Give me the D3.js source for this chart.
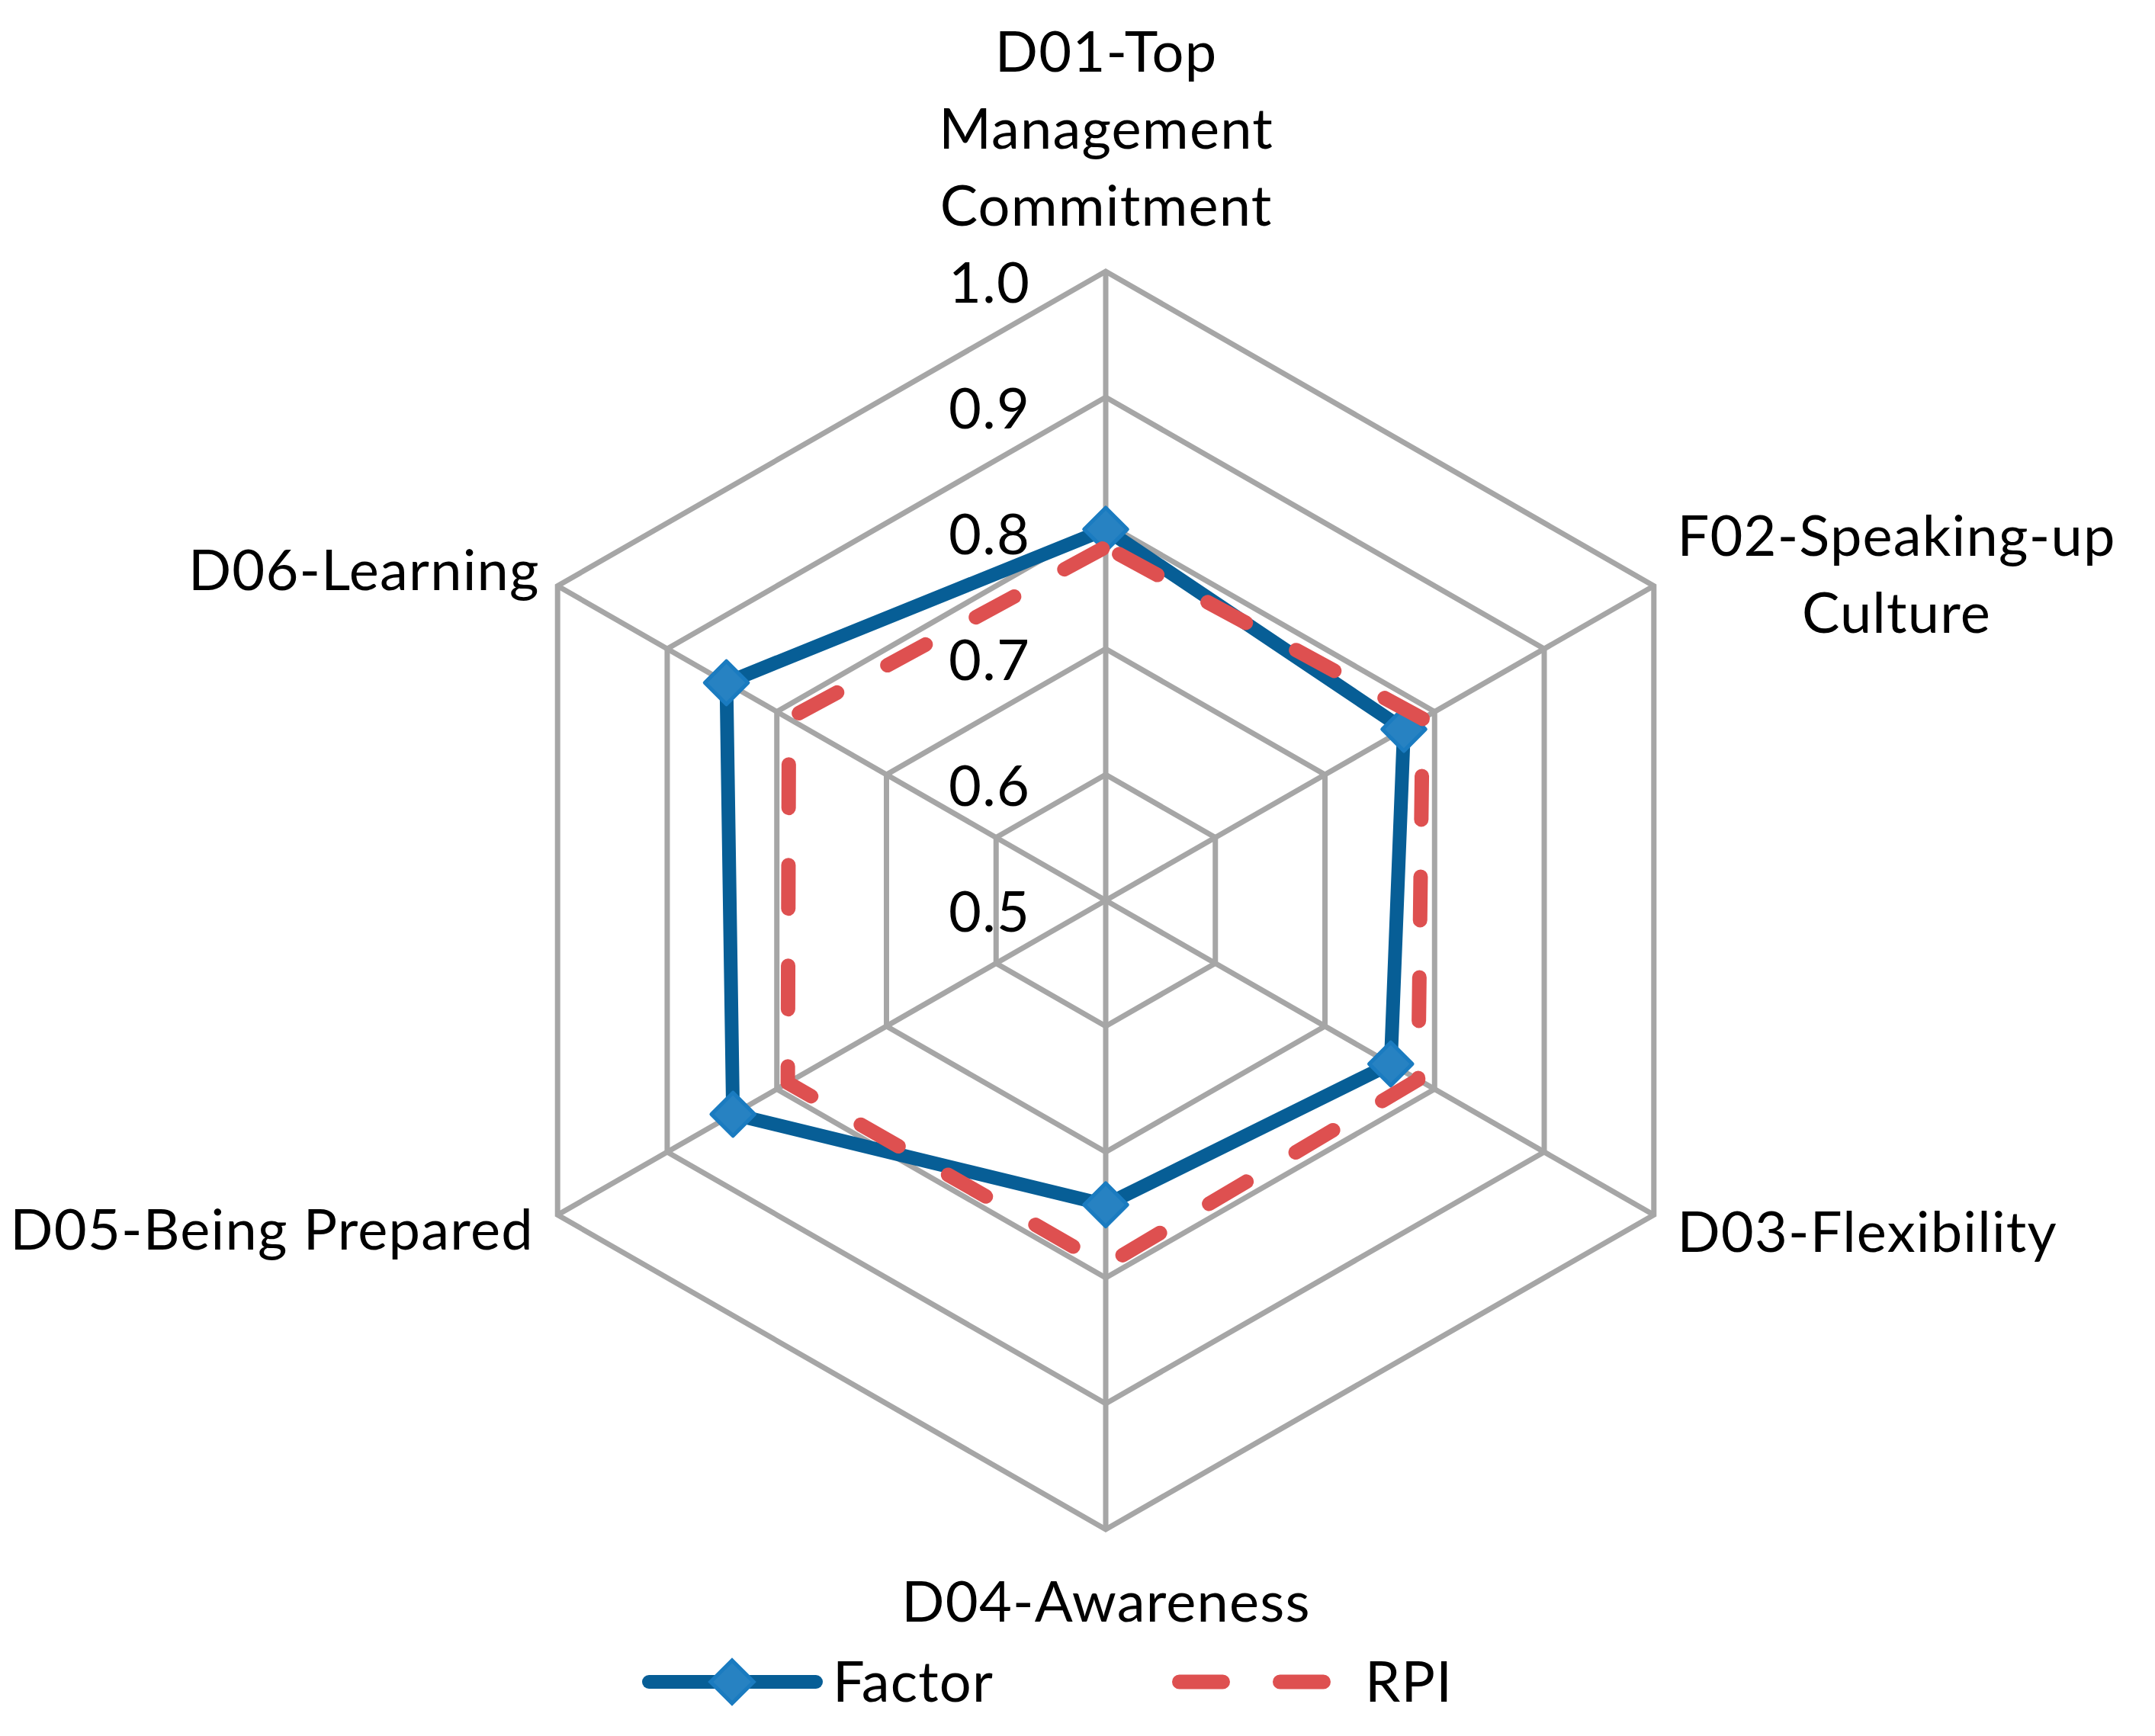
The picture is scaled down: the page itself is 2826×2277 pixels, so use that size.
<!DOCTYPE html>
<html><head><meta charset="utf-8">
<script src="https://cdn.jsdelivr.net/npm/d3@7"></script>
<style>html,body{margin:0;padding:0;background:#fff;} text{font-family:Lato,"Open Sans",sans-serif;fill:#000;letter-spacing:1.2px;}</style>
</head><body><svg id="chart" width="2826" height="2277"></svg>
<script>
const categories = ["D01-Top\nManagement\nCommitment","F02-Speaking-up\nCulture","D03-Flexibility","D04-Awareness","D05-Being Prepared","D06-Learning"];
const factorValues = [0.795,0.772,0.760,0.742,0.840,0.846];
const rpiValues = [0.781,0.789,0.785,0.790,0.790,0.789];
const tickValues = [0.5,0.6,0.7,0.8,0.9,1.0];
const tickLabels = ["0.5","0.6","0.7","0.8","0.9","1.0"];
const seriesNames = ["Factor","RPI"];

const svg = d3.select("#chart");
svg.append("rect").attr("width",2826).attr("height",2277).attr("fill","#fff");
const cx = 1450, cy = 1181, R = 825, kx = 830/825;
const FS = 74;
const r = d3.scaleLinear().domain([0.5,1.0]).range([0,R]);
const n = categories.length;
const ang = d3.scalePoint().domain(d3.range(n+1)).range([0,2*Math.PI]);
function pt(i,v){const a=ang(i%n);const rr=r(v);return [cx+kx*rr*Math.sin(a), cy-rr*Math.cos(a)];}

const grid = svg.append("g").attr("fill","none").attr("stroke","#a6a6a6").attr("stroke-width",7);
const line = d3.line().curve(d3.curveLinearClosed);
tickValues.filter(t=>t>0.5).forEach(t=>{
  grid.append("path").attr("d", line(d3.range(n).map(i=>pt(i,t)))).attr("stroke-linejoin","miter");
});
d3.range(n).forEach(i=>{
  const p=pt(i,1.0);
  grid.append("line").attr("x1",cx).attr("y1",cy).attr("x2",p[0]).attr("y2",p[1]);
});

// tick labels
svg.append("g").selectAll("text").data(tickValues).join("text")
  .attr("x",1351).attr("y",d=>pt(0,d)[1]+12)
  .attr("text-anchor","end").attr("dominant-baseline","central")
  .attr("font-size",FS).text((d,i)=>tickLabels[i]);

// Factor series
const factorPts = factorValues.map((v,i)=>pt(i,v));
svg.append("path").attr("d",line(factorPts)).attr("fill","none")
  .attr("stroke","#075e96").attr("stroke-width",18).attr("stroke-linejoin","round");
const diamond = d3.symbol().type(d3.symbolSquare).size(1600);
svg.append("g").selectAll("path").data(factorPts).join("path")
  .attr("d",diamond()).attr("transform",d=>`translate(${d[0]},${d[1]}) rotate(45)`)
  .attr("fill","#2782c2").attr("stroke","#1a7bc0").attr("stroke-width",5).attr("stroke-linejoin","round");

// RPI series
const rpiPts = rpiValues.map((v,i)=>pt(i,v));
svg.append("path").attr("d",line(rpiPts)).attr("fill","none")
  .attr("stroke","#de5050").attr("stroke-width",19).attr("stroke-linecap","round")
  .attr("stroke-linejoin","round").attr("stroke-dasharray","57,75").attr("stroke-dashoffset",-20);

// category labels
const lab = svg.append("g").attr("font-size",FS);
categories.forEach((c,i)=>{
  const lines = c.split("\n");
  const v = pt(i,1.0);
  const g = lab.append("g");
  const ts = lines.map(l=>g.append("text").text(l));
  const widths = ts.map(t=>t.node().getComputedTextLength());
  const maxW = d3.max(widths);
  const lh = 101;
  let baseY, centerX;
  if(i===0){ centerX=v[0]; baseY = v[1]-60-(lines.length-1)*lh; }
  else if(i===1){ centerX=v[0]+30+maxW/2; baseY = v[1]-40; }
  else if(i===2){ centerX=v[0]+30+maxW/2; baseY = v[1]+48; }
  else if(i===3){ centerX=v[0]; baseY = v[1]+121; }
  else if(i===4){ centerX=v[0]-32-maxW/2; baseY = v[1]+45; }
  else { centerX=v[0]-24-maxW/2; baseY = v[1]+5; }
  ts.forEach((t,k)=>t.attr("x",centerX+0.6).attr("y",baseY+k*lh).attr("text-anchor","middle"));
});

// legend
const lg = svg.append("g");
const ly = 2206;
lg.append("line").attr("x1",851).attr("x2",1070).attr("y1",ly).attr("y2",ly)
  .attr("stroke","#075e96").attr("stroke-width",18).attr("stroke-linecap","round");
lg.append("path").attr("d",diamond()).attr("transform",`translate(960,${ly}) rotate(45)`)
  .attr("fill","#2782c2").attr("stroke","#1a7bc0").attr("stroke-width",5);
lg.append("text").attr("x",1092).attr("y",ly+26).attr("font-size",FS).text(seriesNames[0]);
lg.append("line").attr("x1",1546.5).attr("x2",1735.5).attr("y1",ly).attr("y2",ly)
  .attr("stroke","#de5050").attr("stroke-width",19).attr("stroke-linecap","round").attr("stroke-dasharray","57,75");
lg.append("text").attr("x",1790).attr("y",ly+26).attr("font-size",FS).text(seriesNames[1]);
</script></body></html>
